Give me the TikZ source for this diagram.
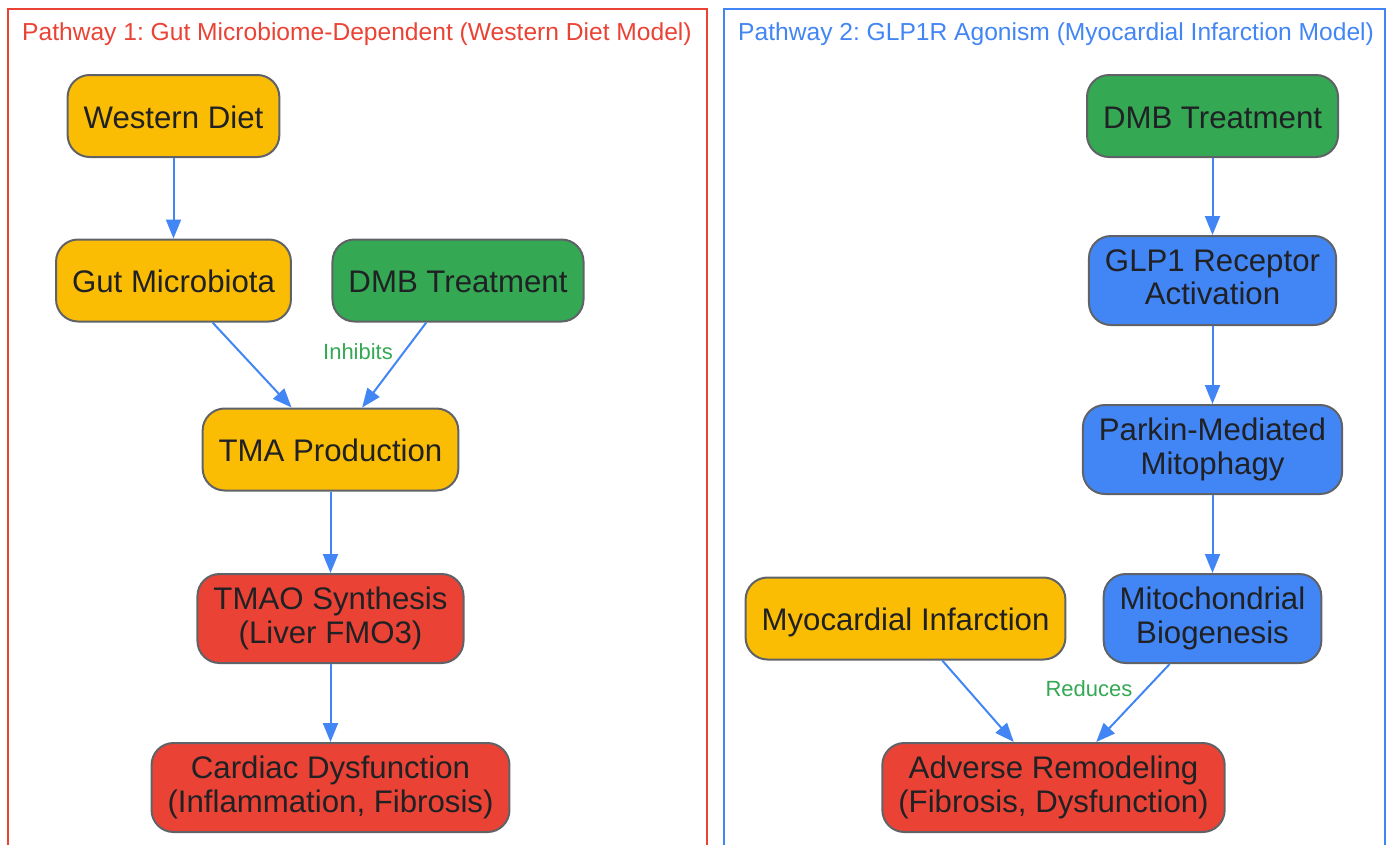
\documentclass[tikz,border=0pt]{standalone}
\usepackage{fontspec}
\setmainfont{Liberation Sans}
\usetikzlibrary{arrows.meta}
\frenchspacing
\definecolor{gyellow}{HTML}{FBBC04}
\definecolor{ggreen}{HTML}{34A853}
\definecolor{gred}{HTML}{EA4335}
\definecolor{gblue}{HTML}{4285F4}
\definecolor{gborder}{HTML}{5F6368}
\definecolor{gtext}{HTML}{202124}

\tikzset{
  box/.style={draw=gborder, line width=2pt, rounded corners=22pt, align=center,
    inner xsep=16pt, inner ysep=4pt, minimum height=82pt, text=gtext,
    font=\fontsize{31.2}{33.5}\selectfont,
    execute at begin node={\rule{0pt}{1.0em}},
    execute at end node={\rule[-0.212em]{0pt}{0pt}}},
  yellowbox/.style={box, fill=gyellow},
  greenbox/.style={box, fill=ggreen},
  redbox/.style={box, fill=gred},
  bluebox/.style={box, fill=gblue},
  twoline/.style={minimum height=89pt},
  flow/.style={draw=gblue, line width=2pt, -{Triangle[length=19pt,width=15pt]}},
  note/.style={text=ggreen, font=\fontsize{22}{26}\selectfont},
  paneltitle/.style={anchor=west, inner sep=0pt, font=\fontsize{24.6}{28}\selectfont}
}

\begin{document}
\begin{tikzpicture}[x=1pt, y=-1pt]
			\clip (0,0) rectangle (1391,844);
			% panels
			\draw[gred, line width=2pt] (8,9) rectangle (707,860);
			\draw[gblue, line width=2pt] (724,9) rectangle (1385,860);
			\node[paneltitle, text=gred] (title1) at (22,34) {Pathway 1: Gut Microbiome-Dependent (Western Diet Model)};
			\node[paneltitle, text=gblue] (title2) at (738,34) {Pathway 2: GLP1R Agonism (Myocardial Infarction Model)};
			% pathway 1
			\node[yellowbox] (diet) at (173.5,116) {Western Diet};
			\node[yellowbox] (gut) at (173.5,280.5) {Gut Microbiota};
			\node[greenbox] (dmbA) at (458,280.5) {DMB Treatment};
			\node[yellowbox] (tma) at (330.5,449.5) {TMA Production};
			\node[redbox, twoline] (tmao) at (330.5,618.5) {TMAO Synthesis\\(Liver FMO3)};
			\node[redbox, twoline] (cardiac) at (330.5,787.5) {Cardiac Dysfunction\\(Inflammation, Fibrosis)};
			\draw[flow] (diet) -- (gut);
			\draw[flow] (gut) -- (tma);
			\draw[flow] (dmbA) -- (tma);
			\draw[flow] (tma) -- (tmao);
			\draw[flow] (tmao) -- (cardiac);
			\node[note] (inhibits) at (358,352) {Inhibits};
			% pathway 2
			\node[greenbox] (dmbB) at (1212.5,116) {DMB Treatment};
			\node[bluebox, twoline] (glp) at (1212.5,280.5) {GLP1 Receptor\\Activation};
			\node[bluebox, twoline] (parkin) at (1212.5,449.5) {Parkin-Mediated\\Mitophagy};
			\node[bluebox, twoline] (mito) at (1212.5,618.5) {Mitochondrial\\Biogenesis};
			\node[yellowbox] (mi) at (905.5,618.5) {Myocardial Infarction};
			\node[redbox, twoline] (remodel) at (1053.5,787.5) {Adverse Remodeling\\(Fibrosis, Dysfunction)};
			\draw[flow] (dmbB) -- (glp);
			\draw[flow] (glp) -- (parkin);
			\draw[flow] (parkin) -- (mito);
			\draw[flow] (mi) -- (remodel);
			\draw[flow] (mito) -- (remodel);
			\node[note] (reduces) at (1089,689) {Reduces};
\end{tikzpicture}
\end{document}
